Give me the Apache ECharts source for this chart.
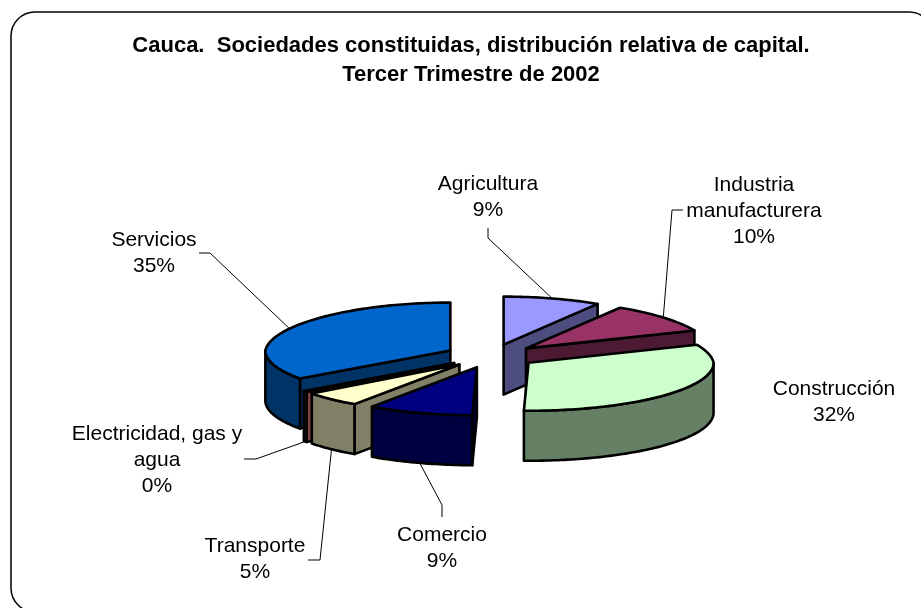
<!DOCTYPE html>
<html>
<head>
<meta charset="utf-8">
<style>
html, body { margin: 0; padding: 0; background: #fff; }
#main { width: 921px; height: 608px; }
</style>
<script src="https://cdn.jsdelivr.net/npm/echarts@6/dist/echarts.min.js"></script>
</head>
<body>
<div id="main"></div>
<script>
// Datos
var categories = ['Agricultura', 'Industria manufacturera', 'Construcción', 'Comercio', 'Transporte', 'Electricidad, gas y agua', 'Servicios'];
var shares = [8.9, 10.0, 31.5, 9.2, 5.1, 0.4, 34.9];

// Estilo
var topColors = ['#9999FF', '#993366', '#CCFFCC', '#000080', '#FFFFCC', '#FF8080', '#0066CC'];
var sideColors = ['#4D4D80', '#4D1A33', '#668066', '#000040', '#808066', '#804040', '#003366'];

// Pastel 3D: centro, radios de la elipse, grosor, separacion de las porciones
// y cuanto se angosta la parte de atras
var cx = 491, cy = 356, rx = 185, ry = 48, depth = 50, explode = 0.247, backNarrow = 0.05;

// Etiquetas: lineas de texto, centro y primera linea, codo de la linea guia
var labelLines = [
  ['Agricultura'],
  ['Industria', 'manufacturera'],
  ['Construcción'],
  ['Comercio'],
  ['Transporte'],
  ['Electricidad, gas y', 'agua'],
  ['Servicios']
];
var labelPos = [[488, 184], [754, 185], [834, 389], [442, 535], [255, 546], [157, 434], [154, 240]];
var leaderElbow = [
  [[488, 228], [488, 238]],
  [[683, 210], [672, 210]],
  null,
  [[442, 517], [442, 505]],
  [[308, 560], [320, 560]],
  [[244, 459], [256, 459]],
  [[199, 253], [210, 253]]
];

var total = shares.reduce(function (a, b) { return a + b; }, 0);
var rows = [];
var acum = 0;
shares.forEach(function (v, i) {
  var a0 = acum / total * 2 * Math.PI;
  acum += v;
  var a1 = acum / total * 2 * Math.PI;
  rows.push([i, a0, a1]);
});
// se pintan de atras hacia adelante
rows.sort(function (p, q) {
  return Math.cos((q[1] + q[2]) / 2) - Math.cos((p[1] + p[2]) / 2);
});

function rimPoint(ax, ay, a, dy) {
  var narrow = 1 - backNarrow * Math.max(Math.cos(a), 0);
  return [ax + rx * narrow * Math.sin(a), ay - ry * Math.cos(a) + (dy || 0)];
}

function arcPoints(ax, ay, a0, a1, dy) {
  var pts = [];
  var n = Math.max(2, Math.ceil((a1 - a0) / 0.02));
  for (var k = 0; k <= n; k++) {
    pts.push(rimPoint(ax, ay, a0 + (a1 - a0) * k / n, dy));
  }
  return pts;
}

var edge = { stroke: '#000', lineWidth: 2.6, lineJoin: 'round' };

function poly(points, fill) {
  return {
    type: 'polygon',
    shape: { points: points },
    style: { fill: fill, stroke: edge.stroke, lineWidth: edge.lineWidth, lineJoin: edge.lineJoin }
  };
}

function radialFace(ax, ay, a, fill) {
  var p = rimPoint(ax, ay, a);
  return poly([[ax, ay], p, [p[0], p[1] + depth], [ax, ay + depth]], fill);
}

function renderSlice(params, api) {
  var i = api.value(0), a0 = api.value(1), a1 = api.value(2);
  var mid = (a0 + a1) / 2;
  var ax = cx + explode * rx * Math.sin(mid);
  var ay = cy - explode * ry * Math.cos(mid);
  var children = [];

  // caras radiales visibles
  if (Math.sin(a0) < 0) children.push(radialFace(ax, ay, a0, sideColors[i]));
  if (Math.sin(a1) > 0) children.push(radialFace(ax, ay, a1, sideColors[i]));

  // pared exterior, solo la mitad del frente
  var w0 = Math.max(a0, Math.PI / 2), w1 = Math.min(a1, Math.PI * 1.5);
  if (w1 > w0) {
    children.push(poly(
      arcPoints(ax, ay, w0, w1, 0).concat(arcPoints(ax, ay, w0, w1, depth).reverse()),
      sideColors[i]
    ));
  }

  // tapa
  children.push(poly([[ax, ay]].concat(arcPoints(ax, ay, a0, a1, 0)), topColors[i]));

  // linea guia
  if (leaderElbow[i]) {
    var front = Math.cos(mid) < 0;
    var anchor = rimPoint(ax, ay, mid, front ? depth : 0);
    children.push({
      type: 'polyline',
      shape: { points: leaderElbow[i].concat([anchor]) },
      style: { fill: 'none', stroke: '#000', lineWidth: 1 },
      z2: 5
    });
  }

  // etiqueta
  var pct = Math.round(shares[i] / total * 100) + '%';
  var lines = labelLines[i].concat([pct]);
  lines.forEach(function (t, k) {
    children.push({
      type: 'text',
      z2: 6,
      style: {
        x: labelPos[i][0],
        y: labelPos[i][1] + k * 26,
        text: t,
        fill: '#000',
        font: '21px "Liberation Sans", Arial, sans-serif',
        align: 'center',
        verticalAlign: 'middle'
      }
    });
  });

  return { type: 'group', children: children };
}

var myChart = echarts.init(document.getElementById('main'));
myChart.setOption({
  animation: false,
  backgroundColor: '#fff',
  title: {
    text: 'Cauca.  Sociedades constituidas, distribución relativa de capital.\nTercer Trimestre de 2002',
    left: 466,
    top: 26,
    textAlign: 'center',
    textStyle: {
      color: '#000',
      fontFamily: '"Liberation Sans", Arial, sans-serif',
      fontWeight: 'bold',
      fontSize: 22,
      lineHeight: 29
    }
  },
  graphic: [{
    type: 'rect',
    shape: { x: 11, y: 12, width: 922, height: 600, r: 24 },
    style: { fill: 'none', stroke: '#000', lineWidth: 1.5 },
    silent: true
  }],
  series: [{
    type: 'custom',
    coordinateSystem: 'none',
    silent: true,
    renderItem: renderSlice,
    data: rows
  }]
});
</script>
</body>
</html>
